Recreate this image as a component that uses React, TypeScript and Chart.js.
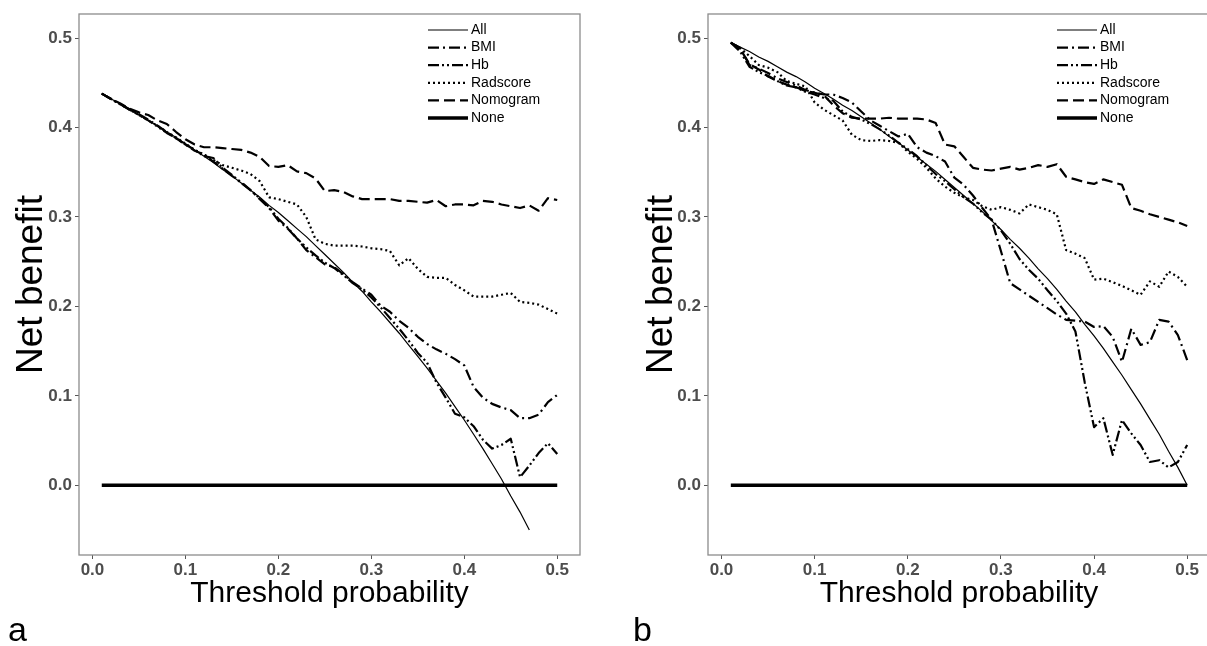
import React, { useEffect, useRef } from "react";
import { Chart, registerables } from "chart.js";

Chart.register(...registerables);

// ---------- data ----------
const THRESHOLDS = [
  0.01, 0.02, 0.03, 0.04, 0.05, 0.06, 0.07, 0.08, 0.09, 0.10,
  0.11, 0.12, 0.13, 0.14, 0.15, 0.16, 0.17, 0.18, 0.19, 0.20,
  0.21, 0.22, 0.23, 0.24, 0.25, 0.26, 0.27, 0.28, 0.29, 0.30,
  0.31, 0.32, 0.33, 0.34, 0.35, 0.36, 0.37, 0.38, 0.39, 0.40,
  0.41, 0.42, 0.43, 0.44, 0.45, 0.46, 0.47, 0.48, 0.49, 0.50,
];

const SERIES_NAMES = ["All", "BMI", "Hb", "Radscore", "Nomogram", "None"];
const X_TICKS = [0.0, 0.1, 0.2, 0.3, 0.4, 0.5];
const Y_TICKS = [0.0, 0.1, 0.2, 0.3, 0.4, 0.5];

// Panel a
const ALL_A = [
  0.438, 0.432, 0.427, 0.421, 0.414, 0.408, 0.402, 0.395, 0.389, 0.382,
  0.375, 0.368, 0.361, 0.353, 0.346, 0.338, 0.330, 0.322, 0.313, 0.305,
  0.296, 0.287, 0.278, 0.268, 0.258, 0.248, 0.238, 0.227, 0.217, 0.205,
  0.194, 0.182, 0.170, 0.157, 0.144, 0.131, 0.117, 0.103, 0.088, 0.073,
  0.057, 0.041, 0.024, 0.007, -0.012, -0.030, -0.050,
];
const BMI_A = [
  0.438, 0.432, 0.426, 0.420, 0.415, 0.409, 0.402, 0.395, 0.388, 0.381,
  0.374, 0.370, 0.362, 0.354, 0.346, 0.339, 0.330, 0.320, 0.310, 0.296,
  0.287, 0.276, 0.263, 0.255, 0.247, 0.244, 0.236, 0.227, 0.220, 0.213,
  0.201, 0.194, 0.184, 0.176, 0.166, 0.158, 0.152, 0.147, 0.141, 0.134,
  0.110, 0.098, 0.091, 0.087, 0.084, 0.075, 0.075, 0.079, 0.093, 0.101,
];
const HB_A = [
  0.438, 0.432, 0.426, 0.420, 0.414, 0.408, 0.401, 0.394, 0.388, 0.381,
  0.375, 0.368, 0.366, 0.355, 0.347, 0.338, 0.330, 0.321, 0.311, 0.298,
  0.288, 0.276, 0.266, 0.257, 0.249, 0.243, 0.235, 0.226, 0.219, 0.210,
  0.199, 0.187, 0.175, 0.162, 0.148, 0.137, 0.115, 0.098, 0.080, 0.076,
  0.066, 0.051, 0.041, 0.045, 0.052, 0.009, 0.022, 0.036, 0.047, 0.035,
];
const RAD_A = [
  0.438, 0.432, 0.426, 0.420, 0.414, 0.408, 0.402, 0.395, 0.389, 0.382,
  0.375, 0.370, 0.364, 0.358, 0.355, 0.352, 0.348, 0.340, 0.322, 0.320,
  0.317, 0.314, 0.300, 0.275, 0.270, 0.268, 0.268, 0.268, 0.267, 0.265,
  0.264, 0.262, 0.246, 0.254, 0.242, 0.233, 0.232, 0.232, 0.224, 0.218,
  0.211, 0.211, 0.211, 0.213, 0.215, 0.205, 0.204, 0.202, 0.197, 0.192,
];
const NOM_A = [
  0.438, 0.432, 0.427, 0.421, 0.417, 0.414, 0.408, 0.404, 0.395, 0.387,
  0.381, 0.378, 0.378, 0.377, 0.376, 0.375, 0.372, 0.367, 0.357, 0.356,
  0.358, 0.351, 0.349, 0.343, 0.329, 0.330, 0.328, 0.323, 0.320, 0.320,
  0.320, 0.320, 0.318, 0.318, 0.317, 0.316, 0.319, 0.312, 0.314, 0.314,
  0.313, 0.318, 0.317, 0.314, 0.312, 0.310, 0.313, 0.307, 0.321, 0.319,
];
const NONE_A = [
  0, 0, 0, 0, 0, 0, 0, 0, 0, 0, 0, 0, 0, 0, 0, 0, 0, 0, 0, 0, 0, 0, 0, 0, 0,
  0, 0, 0, 0, 0, 0, 0, 0, 0, 0, 0, 0, 0, 0, 0, 0, 0, 0, 0, 0, 0, 0, 0, 0, 0,
];

// Panel b
const ALL_B = [
  0.495, 0.490, 0.485, 0.479, 0.474, 0.468, 0.462, 0.457, 0.451, 0.444,
  0.438, 0.432, 0.425, 0.419, 0.412, 0.405, 0.398, 0.390, 0.383, 0.375,
  0.367, 0.359, 0.351, 0.342, 0.333, 0.324, 0.315, 0.306, 0.296, 0.286,
  0.275, 0.265, 0.254, 0.242, 0.231, 0.219, 0.206, 0.194, 0.180, 0.167,
  0.153, 0.138, 0.123, 0.107, 0.091, 0.074, 0.057, 0.038, 0.020, 0.000,
];
const BMI_B = [
  0.495, 0.489, 0.470, 0.466, 0.461, 0.455, 0.451, 0.447, 0.442, 0.439,
  0.437, 0.437, 0.433, 0.428, 0.418, 0.408, 0.402, 0.396, 0.390, 0.393,
  0.378, 0.372, 0.368, 0.362, 0.344, 0.336, 0.324, 0.310, 0.297, 0.262,
  0.226, 0.219, 0.212, 0.205, 0.198, 0.191, 0.185, 0.184, 0.183, 0.177,
  0.178, 0.166, 0.138, 0.175, 0.157, 0.160, 0.185, 0.183, 0.168, 0.140,
];
const HB_B = [
  0.495, 0.485, 0.468, 0.462, 0.458, 0.452, 0.447, 0.445, 0.440, 0.437,
  0.433, 0.430, 0.418, 0.412, 0.409, 0.404, 0.398, 0.391, 0.383, 0.376,
  0.368, 0.358, 0.348, 0.340, 0.331, 0.322, 0.315, 0.305, 0.297, 0.285,
  0.270, 0.253, 0.241, 0.231, 0.218, 0.206, 0.192, 0.172, 0.115, 0.065,
  0.075, 0.034, 0.073, 0.058, 0.045, 0.026, 0.028, 0.020, 0.026, 0.045,
];
const RAD_B = [
  0.495, 0.489, 0.480, 0.470, 0.467, 0.462, 0.452, 0.449, 0.446, 0.428,
  0.420, 0.414, 0.408, 0.392, 0.386, 0.385, 0.386, 0.385, 0.383, 0.373,
  0.365, 0.355, 0.343, 0.334, 0.327, 0.322, 0.319, 0.312, 0.308, 0.311,
  0.308, 0.304, 0.314, 0.311, 0.308, 0.303, 0.263, 0.259, 0.254, 0.230,
  0.231, 0.227, 0.223, 0.218, 0.213, 0.228, 0.222, 0.239, 0.233, 0.222,
];
const NOM_B = [
  0.495, 0.488, 0.471, 0.465, 0.457, 0.452, 0.448, 0.445, 0.441, 0.439,
  0.436, 0.425, 0.416, 0.411, 0.410, 0.410, 0.410, 0.411, 0.410, 0.410,
  0.410, 0.409, 0.405, 0.381, 0.379, 0.367, 0.355, 0.353, 0.352, 0.354,
  0.356, 0.353, 0.355, 0.358, 0.356, 0.359, 0.345, 0.342, 0.339, 0.337,
  0.342, 0.339, 0.336, 0.310, 0.307, 0.303, 0.300, 0.297, 0.294, 0.290,
];
const NONE_B = [
  0, 0, 0, 0, 0, 0, 0, 0, 0, 0, 0, 0, 0, 0, 0, 0, 0, 0, 0, 0, 0, 0, 0, 0, 0,
  0, 0, 0, 0, 0, 0, 0, 0, 0, 0, 0, 0, 0, 0, 0, 0, 0, 0, 0, 0, 0, 0, 0, 0, 0,
];

const PANEL_A = [ALL_A, BMI_A, HB_A, RAD_A, NOM_A, NONE_A];
const PANEL_B = [ALL_B, BMI_B, HB_B, RAD_B, NOM_B, NONE_B];

// ---------- styles ----------
const FONT = "'Liberation Sans', Arial, Helvetica, sans-serif";
const X_RANGE = { min: -0.0145, max: 0.5245 };
const Y_RANGE = { min: -0.078, max: 0.527 };

const LINE_STYLE: Record<string, { w: number; dash: number[] }> = {
  All: { w: 1.2, dash: [] },
  BMI: { w: 2.2, dash: [11, 4, 2, 4] },
  Hb: { w: 2.2, dash: [11, 3, 2, 3, 2, 3] },
  Radscore: { w: 2.2, dash: [2, 3] },
  Nomogram: { w: 2.2, dash: [11, 5] },
  None: { w: 3.5, dash: [] },
};

const framePlugin = {
  id: "frame",
  afterDraw(chart: any) {
    const { ctx, chartArea } = chart;
    ctx.save();
    ctx.strokeStyle = "#8c8c8c";
    ctx.lineWidth = 1.3;
    ctx.strokeRect(
      chartArea.left,
      chartArea.top,
      chartArea.right - chartArea.left,
      chartArea.bottom - chartArea.top
    );
    ctx.restore();
  },
};

const innerLegendPlugin = {
  id: "innerLegend",
  afterDraw(chart: any) {
    const { ctx, chartArea } = chart;
    const x0 = chartArea.left + 349;
    let y = chartArea.top + 16;
    ctx.save();
    chart.data.datasets.forEach((ds: any) => {
      ctx.strokeStyle = "#000";
      ctx.lineWidth = ds.borderWidth;
      ctx.setLineDash(ds.borderDash || []);
      ctx.beginPath();
      ctx.moveTo(x0, y);
      ctx.lineTo(x0 + 40, y);
      ctx.stroke();
      ctx.setLineDash([]);
      ctx.fillStyle = "#000";
      ctx.font = `14px ${FONT}`;
      ctx.textBaseline = "middle";
      ctx.textAlign = "left";
      ctx.fillText(ds.label, x0 + 43, y);
      y += 17.6;
    });
    ctx.restore();
  },
};

type PanelProps = {
  values: number[][];
  left: number;
  width: number;
  yAxisWidth: number;
  yTitlePad: number;
  padRight: number;
};

function Panel({ values, left, width, yAxisWidth, yTitlePad, padRight }: PanelProps) {
  const ref = useRef<HTMLCanvasElement | null>(null);

  useEffect(() => {
    if (!ref.current) return;
    const tickFont = { family: FONT, size: 17, weight: "bold" as const };
    const chart = new Chart(ref.current, {
      type: "line",
      data: {
        datasets: SERIES_NAMES.map((name, k) => ({
          label: name,
          data: values[k].map((v, i) => ({ x: THRESHOLDS[i], y: v })),
          borderColor: "#000",
          backgroundColor: "#000",
          borderWidth: LINE_STYLE[name].w,
          borderDash: LINE_STYLE[name].dash,
          borderJoinStyle: "round",
          pointRadius: 0,
          pointHoverRadius: 0,
          fill: false,
          tension: 0,
        })),
      },
      options: {
        responsive: false,
        animation: false,
        events: [],
        layout: { padding: { left: 0, top: 14, right: padRight, bottom: 0 } },
        plugins: {
          legend: { display: false },
          tooltip: { enabled: false },
          title: { display: false },
        },
        scales: {
          x: {
            type: "linear",
            min: X_RANGE.min,
            max: X_RANGE.max,
            bounds: "data",
            afterBuildTicks: (s: any) => {
              s.ticks = X_TICKS.map((v) => ({ value: v }));
            },
            ticks: {
              padding: 1,
              color: "#4d4d4d",
              font: tickFont,
              maxRotation: 0,
              autoSkip: false,
              callback: (v: any) => Number(v).toFixed(1),
            },
            grid: {
              display: true,
              drawOnChartArea: false,
              drawTicks: true,
              tickLength: 4,
              color: "#555",
            },
            border: { display: false },
            title: {
              display: true,
              text: "Threshold probability",
              color: "#000",
              font: { family: FONT, size: 30 },
              padding: { top: 0, bottom: 34 },
            },
            afterFit: (s: any) => {
              s.height = 91;
            },
          },
          y: {
            type: "linear",
            min: Y_RANGE.min,
            max: Y_RANGE.max,
            bounds: "data",
            afterBuildTicks: (s: any) => {
              s.ticks = Y_TICKS.map((v) => ({ value: v }));
            },
            ticks: {
              padding: 3,
              color: "#4d4d4d",
              font: tickFont,
              autoSkip: false,
              callback: (v: any) => Number(v).toFixed(1),
            },
            grid: {
              display: true,
              drawOnChartArea: false,
              drawTicks: true,
              tickLength: 4,
              color: "#555",
            },
            border: { display: false },
            title: {
              display: true,
              text: "Net benefit",
              color: "#000",
              font: { family: FONT, size: 37 },
              padding: { top: yTitlePad, bottom: 0 },
            },
            afterFit: (s: any) => {
              s.width = yAxisWidth;
            },
          },
        },
      } as any,
      plugins: [framePlugin, innerLegendPlugin],
    });
    return () => chart.destroy();
  }, [values, yAxisWidth, yTitlePad, padRight]);

  return (
    <canvas
      ref={ref}
      width={width}
      height={646}
      style={{ position: "absolute", left, top: 0, width, height: 646 }}
    />
  );
}

const labelStyle: React.CSSProperties = {
  position: "absolute",
  top: 612,
  fontFamily: FONT,
  fontSize: 34,
  lineHeight: "34px",
  color: "#000",
};

export default function App() {
  return (
    <div
      style={{
        position: "absolute",
        left: 0,
        top: 0,
        width: 1207,
        height: 646,
        overflow: "hidden",
        background: "#fff",
      }}
    >
      <Panel values={PANEL_A} left={0} width={600} yAxisWidth={79} yTitlePad={10} padRight={20} />
      <Panel values={PANEL_B} left={600} width={620} yAxisWidth={108} yTitlePad={40} padRight={10} />
      <div style={{ ...labelStyle, left: 8 }}>a</div>
      <div style={{ ...labelStyle, left: 633 }}>b</div>
    </div>
  );
}
